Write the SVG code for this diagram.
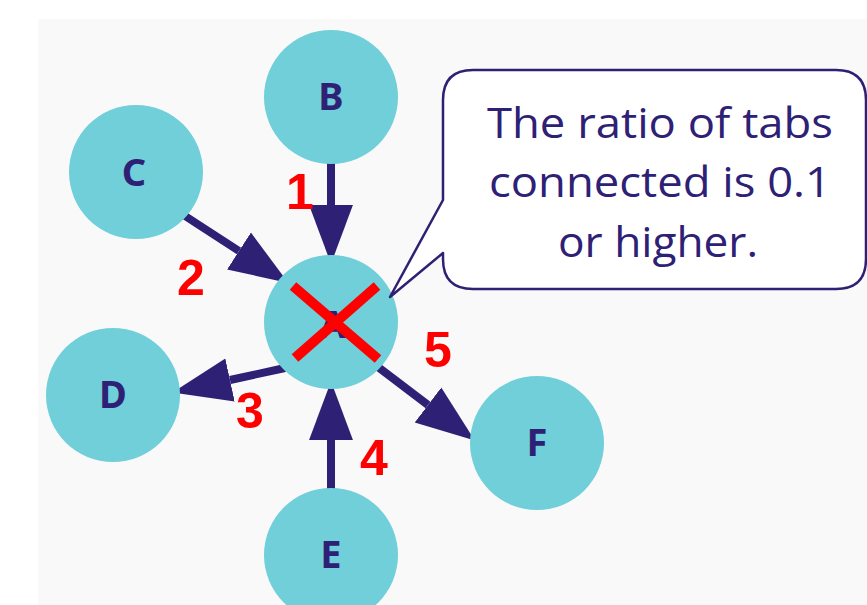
<svg xmlns="http://www.w3.org/2000/svg" width="867" height="605" viewBox="0 0 867 605">
<style>
.node{fill:#70cfd9}
.lbl{font-family:"Noto Sans","Open Sans",sans-serif;font-weight:bold;font-size:38px;fill:#2e2175;text-anchor:middle}
.edge{stroke:#2e2175;stroke-width:8;fill:none}
.num{font-family:"Liberation Sans",Arial,sans-serif;font-weight:bold;font-size:50px;fill:#ff0000;text-anchor:middle}
.call{font-family:"Open Sans","Noto Sans",sans-serif;font-size:42px;fill:#2e2175;text-anchor:middle}
</style>
<defs>
<marker id="ah" markerUnits="userSpaceOnUse" markerWidth="60" markerHeight="50" refX="0" refY="20" orient="auto" viewBox="0 0 52 40">
<path d="M0,1 L51,20 L0,39 Z" fill="#2e2175"/>
</marker>
</defs>
<rect x="0" y="0" width="867" height="605" fill="#ffffff"/>
<rect x="38" y="19" width="829" height="586" fill="#f9f9f9"/>
<g id="connectors">
<line class="edge" x1="331" y1="163" x2="331" y2="205" marker-end="url(#ah)"/>
<line class="edge" x1="182" y1="214" x2="239" y2="251" marker-end="url(#ah)"/>
<line class="edge" x1="285" y1="368" x2="230" y2="380" marker-end="url(#ah)"/>
<line class="edge" x1="331" y1="490" x2="331" y2="440" marker-end="url(#ah)"/>
<line class="edge" x1="378" y1="367" x2="428" y2="405" marker-end="url(#ah)"/>
</g>
<g id="node-B"><circle class="node" cx="331" cy="97" r="67"/><text class="lbl" x="331" y="110">B</text></g>
<g id="node-C"><circle class="node" cx="136" cy="172" r="67"/><text class="lbl" x="134" y="186">C</text></g>
<g id="node-D"><circle class="node" cx="113" cy="395" r="67"/><text class="lbl" x="113" y="408">D</text></g>
<g id="node-F"><circle class="node" cx="537" cy="443" r="67"/><text class="lbl" x="537" y="456">F</text></g>
<g id="node-E"><circle class="node" cx="331" cy="555" r="67"/><text class="lbl" x="331" y="568">E</text></g>
<g id="node-A"><circle class="node" cx="331" cy="322" r="67"/><text class="lbl" x="333" y="338">A</text>
<line x1="293" y1="286" x2="378" y2="359" stroke="#ff0000" stroke-width="10"/>
<line x1="377" y1="286" x2="295" y2="358" stroke="#ff0000" stroke-width="10"/>
</g>
<g id="labels">
<text class="num" x="300" y="209">1</text>
<text class="num" x="191" y="295">2</text>
<text class="num" x="250" y="428">3</text>
<text class="num" x="374" y="475">4</text>
<text class="num" x="438" y="367">5</text>
</g>
<g id="callout">
<path d="M473,70 L836,70 Q866,70 866,100 L866,259 Q866,289 836,289 L473,289 Q443,289 443,259 L443,253 L390,297 L443,200 L443,100 Q443,70 473,70 Z" fill="#ffffff" stroke="#2e2175" stroke-width="2.5" stroke-linejoin="round"/>
<text class="call" x="660" y="138" textLength="346" lengthAdjust="spacingAndGlyphs">The ratio of tabs</text>
<text class="call" x="660" y="197" textLength="342" lengthAdjust="spacingAndGlyphs">connected is 0.1</text>
<text class="call" x="658" y="257" textLength="200" lengthAdjust="spacingAndGlyphs">or higher.</text>
</g>
</svg>
